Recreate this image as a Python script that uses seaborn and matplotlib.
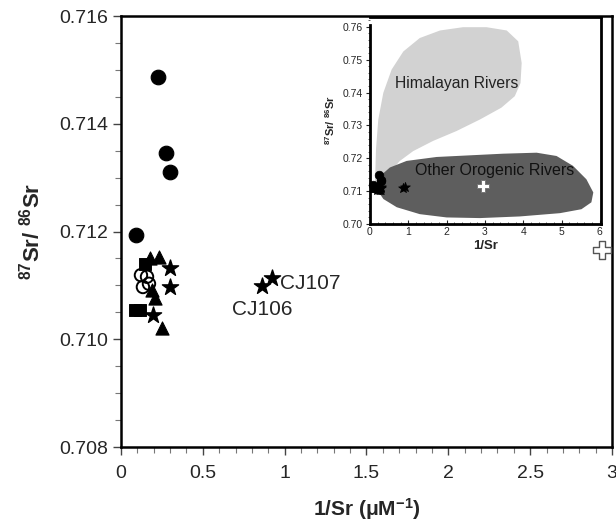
import matplotlib
matplotlib.use('Agg')
import matplotlib.pyplot as plt
from matplotlib.patches import Polygon
from matplotlib.ticker import MultipleLocator, FormatStrFormatter, FuncFormatter
import seaborn as sns

# Sample groups (1/Sr, 87Sr/86Sr)
filled_circle_x = [0.226, 0.275, 0.299, 0.092]
filled_circle_y = [0.71487, 0.71346, 0.71310, 0.71194]

open_circle_x = [0.122, 0.159, 0.134, 0.171]
open_circle_y = [0.71119, 0.71116, 0.71097, 0.71103]

square_x = [0.147, 0.086, 0.116]
square_y = [0.71140, 0.71054, 0.71054]

triangle_x = [0.232, 0.177, 0.190, 0.208, 0.250]
triangle_y = [0.71153, 0.71151, 0.71091, 0.71077, 0.71021]

star_x = [0.299, 0.299, 0.195, 0.861, 0.922]
star_y = [0.71132, 0.71097, 0.71045, 0.71099, 0.71114]

cross_x = [2.94]
cross_y = [0.71166]

labels = ['CJ106', 'CJ107']
label_x = [0.678, 0.971]
label_y = [0.71056, 0.71104]

# Inset fields
himalaya_x = [0.13, 0.157, 0.217, 0.348, 0.565, 0.87, 1.30, 1.83, 2.43, 3.04, 3.57, 3.87,
              3.96, 3.93, 3.78, 3.43, 2.87, 2.26, 1.65, 1.13, 0.78, 0.52, 0.30]
himalaya_y = [0.7121, 0.7227, 0.7318, 0.7399, 0.7470, 0.7525, 0.7566, 0.7589, 0.7599, 0.7599,
              0.7589, 0.7556, 0.7490, 0.7429, 0.7389, 0.7354, 0.7318, 0.7283, 0.7253, 0.7222,
              0.7192, 0.7157, 0.7121]
orogen_x = [0.174, 0.217, 0.52, 0.957, 1.74, 2.61, 3.48, 4.35, 4.87, 5.30, 5.65, 5.83, 5.78,
            5.52, 4.96, 3.91, 2.87, 2.0, 1.30, 0.70, 0.35]
orogen_y = [0.7106, 0.7141, 0.7172, 0.7192, 0.7204, 0.7209, 0.7214, 0.7217, 0.7207, 0.7177,
            0.7136, 0.7096, 0.7066, 0.7045, 0.7033, 0.7023, 0.7018, 0.7020, 0.7030, 0.7051,
            0.7076]

sns.set_theme(style='ticks')
plt.rcParams['font.family'] = ['Liberation Sans', 'DejaVu Sans']
plt.rcParams['mathtext.fontset'] = 'custom'
plt.rcParams['mathtext.rm'] = 'Liberation Sans'
plt.rcParams['mathtext.bf'] = 'Liberation Sans:bold'
plt.rcParams['mathtext.it'] = 'Liberation Sans:italic'


def draw_points(ax, scale):
    sns.scatterplot(x=filled_circle_x, y=filled_circle_y, marker='o', color='black',
                    edgecolor='black', s=110 * scale, ax=ax, zorder=3, clip_on=False)
    sns.scatterplot(x=open_circle_x, y=open_circle_y, marker='o', color='none',
                    edgecolor='black', linewidth=1.4 * scale ** 0.5, s=80 * scale, ax=ax, zorder=3)
    sns.scatterplot(x=square_x, y=square_y, marker='s', color='black',
                    edgecolor='black', s=70 * scale, ax=ax, zorder=3)
    sns.scatterplot(x=triangle_x, y=triangle_y, marker='^', color='black',
                    edgecolor='black', s=90 * scale, ax=ax, zorder=3)
    sns.scatterplot(x=star_x, y=star_y, marker='*', color='black',
                    edgecolor='black', s=150 * scale, ax=ax, zorder=3)


fig = plt.figure(figsize=(6.16, 5.23), dpi=100)
ax = fig.add_axes([0.1964, 0.1453, 0.7971, 0.8241])

draw_points(ax, 1.0)
sns.scatterplot(x=cross_x, y=cross_y, marker='P', color='white', edgecolor='#555555',
                linewidth=1.0, s=170, ax=ax, zorder=3, clip_on=False)
for name, lx, ly in zip(labels, label_x, label_y):
    ax.text(lx, ly, name, fontsize=15, va='center', ha='left')

ax.set_xlim(0, 3)
ax.set_ylim(0.708, 0.716)
ax.xaxis.set_major_locator(MultipleLocator(0.5))
ax.xaxis.set_minor_locator(MultipleLocator(0.1))
ax.yaxis.set_major_locator(MultipleLocator(0.002))
ax.yaxis.set_minor_locator(MultipleLocator(0.0005))
ax.xaxis.set_major_formatter(FuncFormatter(lambda v, p: f'{v:g}'))
ax.yaxis.set_major_formatter(FormatStrFormatter('%.3f'))
ax.tick_params(axis='both', which='major', labelsize=14, length=6, width=1, color='#444444')
ax.tick_params(axis='both', which='minor', length=4, width=0.8, color='#777777')
ax.tick_params(axis='x', pad=7)
for sp in ax.spines.values():
    sp.set_linewidth(1.8)
    sp.set_color('black')
ax.set_xlabel(r'1/Sr ($\mathbf{\mu}$M$^{\mathbf{-1}}$)', fontsize=15, fontweight='bold', labelpad=10)
ax.set_ylabel(r'$^{\mathbf{87}}$Sr/ $^{\mathbf{86}}$Sr', fontsize=16, fontweight='bold', labelpad=10)

# Inset
ins = fig.add_axes([0.6006, 0.5717, 0.3750, 0.3958])
ins.add_patch(Polygon(list(zip(himalaya_x, himalaya_y)), closed=True, facecolor='#d2d2d2',
                      edgecolor='none', zorder=1))
ins.add_patch(Polygon(list(zip(orogen_x, orogen_y)), closed=True, facecolor='#5e5e5e',
                      edgecolor='none', zorder=2))
draw_points(ins, 0.35)
sns.scatterplot(x=cross_x, y=cross_y, marker='P', color='white', edgecolor='#777777',
                linewidth=0.7, s=70, ax=ins, zorder=3)
ins.text(2.26, 0.7429, 'Himalayan Rivers', fontsize=11.3, ha='center', va='center', color='#222222')
ins.text(3.26, 0.7164, 'Other Orogenic Rivers', fontsize=11.5, ha='center', va='center', color='#111111')
ins.set_xlim(0, 6.03)
ins.set_ylim(0.70, 0.763)
ins.set_xticks(range(0, 7))
ins.set_yticks([0.70, 0.71, 0.72, 0.73, 0.74, 0.75, 0.76])
ins.xaxis.set_minor_locator(MultipleLocator(0.2))
ins.yaxis.set_minor_locator(MultipleLocator(0.002))
ins.yaxis.set_major_formatter(FormatStrFormatter('%.2f'))
ins.tick_params(axis='both', which='major', labelsize=7.5, length=3, width=0.8, pad=2)
ins.tick_params(axis='both', which='minor', length=1.5, width=0.5)
ins.tick_params(axis='x', which='both', direction='in')
for sp in ins.spines.values():
    sp.set_linewidth(2)
    sp.set_color('black')
ins.spines['left'].set_bounds(0.70, 0.7605)
ins.set_xlabel('1/Sr', fontsize=9.5, fontweight='bold', labelpad=2)
ins.set_ylabel(r'$^{\mathbf{87}}$Sr/ $^{\mathbf{86}}$Sr', fontsize=8, fontweight='bold', labelpad=4)

fig.savefig('out.png', dpi=100)
